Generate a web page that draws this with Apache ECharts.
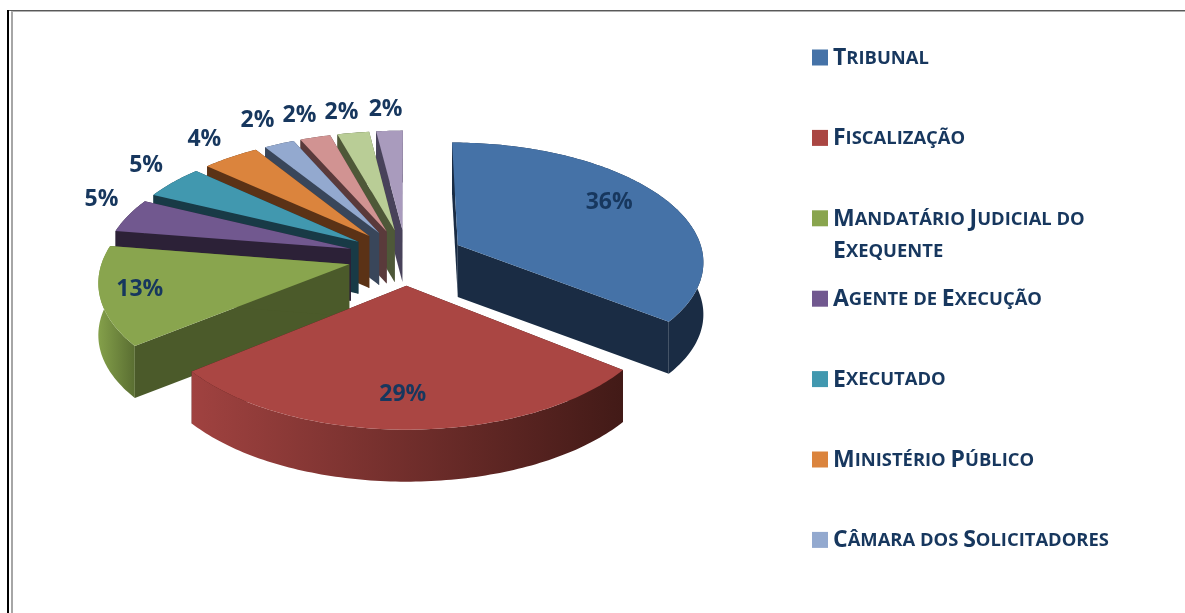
<!DOCTYPE html>
<html>
<head>
<meta charset="utf-8">
<script src="https://cdn.jsdelivr.net/npm/echarts@6/dist/echarts.min.js"></script>
<style>
  html, body { margin: 0; padding: 0; background: #fff; }
  #chart { width: 1185px; height: 613px; }
</style>
</head>
<body>
<div id="chart"></div>
<script>
// valores (%), estimados pelos ângulos das fatias
const sliceValues = [35.6, 28.6, 13.3, 4.6, 4.6, 4.3, 2.3, 2.3, 2.4, 2.0];
// a legenda original só mostra as 7 primeiras entradas
const legendNames = [
  "Tribunal",
  "Fiscalização",
  "Mandatário Judicial do\nExequente",
  "Agente de Execução",
  "Executado",
  "Ministério Público",
  "Câmara dos Solicitadores",
];
const topColors = ["#4572A7", "#AA4643", "#89A54E", "#71588F", "#4198AF", "#DB843D", "#93A9CF", "#D19392", "#B9CD96", "#A99BBD"];
const wallColors = ["#1A2C44", "#421A17", "#4B5A2A", "#2C2137", "#183A46", "#5B3216", "#39465A", "#5A3A3B", "#4E5838", "#48425A"];
const rimLeftColors = ["#1A2C44", "#A04240", "#84A04A", "#2C2137", "#183A46", "#5B3216", "#39465A", "#5A3A3B", "#4E5838", "#48425A"];
const rimRightColors = ["#1A2C44", "#421A17", "#5A6E32", "#2C2137", "#183A46", "#5B3216", "#39465A", "#5A3A3B", "#4E5838", "#48425A"];

const TEXT_COLOR = "#17375E";
const FONT = "'Open Sans', sans-serif";

// geometria da tarte em perspetiva
const CX = 406, CY = 257;
const RX = 246, RY = 118;
const PERSP = 0.125;
const EXPLODE = 0.237;
const DEPTH = 52;

const total = sliceValues.reduce((a, b) => a + b, 0);
const angles = [];
let acc = 0;
sliceValues.forEach((v) => {
  const a0 = acc;
  acc += (v / total) * 360;
  angles.push([a0, acc]);
});

// plano da tarte -> ecrã
function project(x, v, drop) {
  const s = 1 / (1 - PERSP * v);
  return [CX + RX * x * s, CY + RY * v * s + (drop || 0)];
}

function slicePoint(i, deg, r, drop) {
  const mid = ((angles[i][0] + angles[i][1]) / 2) * Math.PI / 180;
  const a = deg * Math.PI / 180;
  return project(
    EXPLODE * Math.sin(mid) + r * Math.sin(a),
    -EXPLODE * Math.cos(mid) - r * Math.cos(a),
    drop
  );
}

function arcPoints(i, drop) {
  const pts = [];
  const [a0, a1] = angles[i];
  const n = Math.max(4, Math.ceil(a1 - a0));
  for (let k = 0; k <= n; k++) {
    pts.push(slicePoint(i, a0 + ((a1 - a0) * k) / n, 1, drop));
  }
  return pts;
}

// de trás para a frente
const drawOrder = sliceValues
  .map((_, i) => i)
  .sort((a, b) => {
    const ma = (angles[a][0] + angles[a][1]) / 2;
    const mb = (angles[b][0] + angles[b][1]) / 2;
    return Math.cos(mb * Math.PI / 180) - Math.cos(ma * Math.PI / 180);
  });

// raio da etiqueta, em fração do raio da tarte, e acerto em px
const labelRadius = [0.74, 0.78, 0.84, 1.2, 1.2, 1.17, 1.2, 1.22, 1.24, 1.25];
const labelShift = [[-2, -7], [-5, 0], [-1, -1], [16, -10], [7, -6], [-5, -6], [-4, -8], [-2, -4], [-3, 0], [-1, 0]];

function renderSlice(params, api) {
  const i = api.value(0);
  const order = drawOrder.indexOf(i);
  const top = arcPoints(i, 0);
  const bottom = arcPoints(i, DEPTH);
  const apex = slicePoint(i, 0, 0, 0);
  const apexLow = slicePoint(i, 0, 0, DEPTH);
  const children = [];
  [0, 1].forEach((side) => {
    const rim = side ? top[top.length - 1] : top[0];
    const rimLow = side ? bottom[bottom.length - 1] : bottom[0];
    children.push({
      type: "polygon",
      z2: order * 4 + 1,
      shape: { points: [apex, rim, rimLow, apexLow] },
      style: { fill: wallColors[i] },
    });
  });
  children.push({
    type: "polygon",
    z2: order * 4 + 2,
    shape: { points: top.concat(bottom.slice().reverse()) },
    style: {
      fill: new echarts.graphic.LinearGradient(0, 0, 1, 0, [
        { offset: 0, color: rimLeftColors[i] },
        { offset: 1, color: rimRightColors[i] },
      ]),
    },
  });
  children.push({
    type: "polygon",
    z2: order * 4 + 3,
    shape: { points: [apex].concat(top) },
    style: { fill: topColors[i] },
  });
  const mid = (angles[i][0] + angles[i][1]) / 2;
  const lp = slicePoint(i, mid, labelRadius[i], 0);
  children.push({
    type: "text",
    z2: 100,
    style: {
      x: lp[0] + labelShift[i][0],
      y: lp[1] + labelShift[i][1],
      text: Math.round((api.value(1) / total) * 100) + "%",
      fill: TEXT_COLOR,
      font: "bold 23px " + FONT,
      align: "center",
      verticalAlign: "middle",
    },
  });
  return { type: "group", children };
}

// versaletes: minúsculas passam a maiúsculas mais pequenas
function smallCaps(name) {
  return name
    .split("\n")
    .map((line) =>
      line.replace(/(\p{Lu}+)|([^\p{Lu}]+)/gu, (m, up) =>
        up ? "{big|" + m + "}" : "{small|" + m.toUpperCase() + "}"
      )
    )
    .join("\n");
}

const LEGEND_X = 812, LEGEND_Y = 57.5, LEGEND_GAP = 80.4, MARK = 16;

const legendGraphics = [];
legendNames.forEach((name, i) => {
  const y = LEGEND_Y + i * LEGEND_GAP;
  legendGraphics.push({
    type: "rect",
    shape: { x: LEGEND_X, y: y - MARK / 2, width: MARK, height: MARK },
    style: { fill: topColors[i] },
  });
  legendGraphics.push({
    type: "text",
    x: LEGEND_X + 21,
    y: y - 15,
    style: {
      text: smallCaps(name),
      verticalAlign: "top",
      rich: {
        big: { font: "bold 23px " + FONT, fill: TEXT_COLOR, lineHeight: 32 },
        small: { font: "bold 18.4px " + FONT, fill: TEXT_COLOR, lineHeight: 32 },
      },
    },
  });
});

// moldura da página original
const frame = [
  { type: "rect", shape: { x: 7, y: 10, width: 2, height: 603 }, style: { fill: "#000" } },
  { type: "rect", shape: { x: 11, y: 12, width: 2, height: 601 }, style: { fill: "#a6a6a6" } },
  { type: "rect", shape: { x: 9, y: 10, width: 1176, height: 1 }, style: { fill: "#595959" } },
  { type: "rect", shape: { x: 11, y: 11, width: 1174, height: 1 }, style: { fill: "#b0b0b0" } },
];

const chart = echarts.init(document.getElementById("chart"), null, { renderer: "canvas" });
chart.setOption({
  animation: false,
  graphic: { elements: frame.concat(legendGraphics) },
  series: [
    {
      type: "custom",
      coordinateSystem: "none",
      renderItem: renderSlice,
      silent: true,
      data: drawOrder.map((i) => [i, sliceValues[i]]),
    },
  ],
});
</script>
</body>
</html>
